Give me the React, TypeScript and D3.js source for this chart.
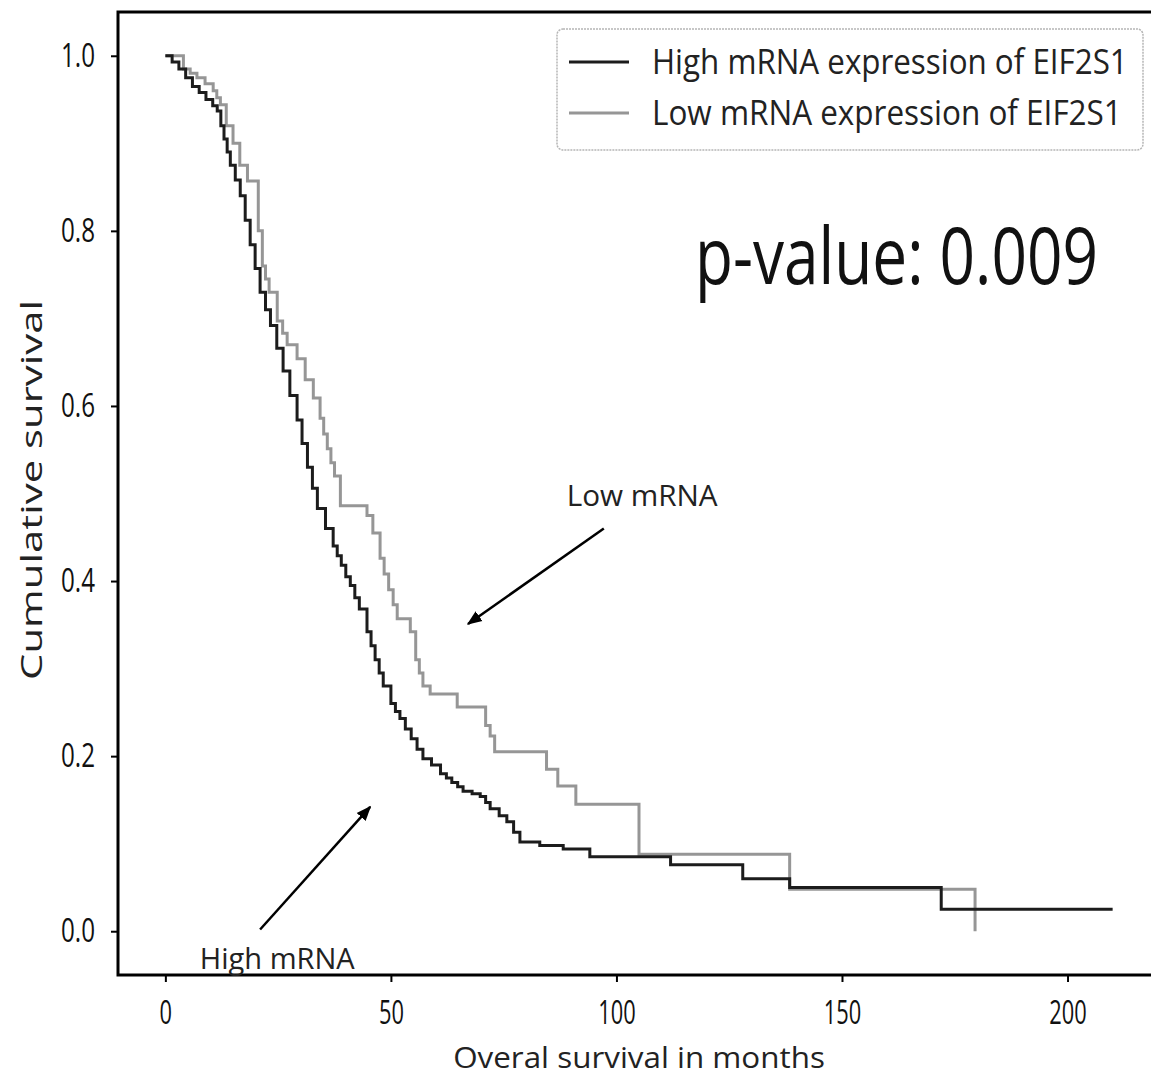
import React, { useEffect, useRef } from 'react';
import * as d3 from 'd3';

// Kaplan-Meier steps (months, cumulative survival)
const highMonths = [0, 1.5, 3, 4.5, 6, 7.5, 9, 10.5, 11.5, 12.3, 13, 13.7, 14.4, 15.5, 16.6, 17.7, 18.8, 19.9, 21, 22.2, 23.3, 24.7, 26.1, 27.6, 29.2, 30.3, 31.5, 32.6, 33.7, 35.5, 37.2, 38.1, 39, 40, 41, 42, 43, 44.7, 45.6, 46.5, 47.4, 48.3, 50, 51, 52, 53.2, 54.5, 55.8, 57.1, 59, 61, 62.3, 63.5, 64.8, 66, 68, 69.8, 71, 72, 74, 75.7, 77.2, 78.6, 83, 88.2, 94.1, 112, 128, 138.4, 172, 210];
const highSurv = [1.0, 0.993, 0.985, 0.975, 0.965, 0.958, 0.95, 0.943, 0.937, 0.92, 0.905, 0.89, 0.875, 0.858, 0.84, 0.812, 0.784, 0.757, 0.73, 0.71, 0.692, 0.666, 0.64, 0.612, 0.584, 0.557, 0.53, 0.506, 0.483, 0.46, 0.44, 0.429, 0.418, 0.405, 0.395, 0.381, 0.368, 0.342, 0.326, 0.31, 0.295, 0.28, 0.26, 0.251, 0.243, 0.231, 0.22, 0.208, 0.197, 0.19, 0.18, 0.175, 0.17, 0.165, 0.16, 0.157, 0.154, 0.147, 0.14, 0.132, 0.125, 0.113, 0.102, 0.098, 0.094, 0.085, 0.076, 0.06, 0.05, 0.025, 0.025];

const lowMonths = [0, 4, 5.5, 7, 8.8, 10.6, 11.4, 12.2, 13.5, 15, 16.5, 18.2, 20.6, 21.5, 22.2, 23, 24.8, 26, 27, 29.2, 31, 32.8, 34.3, 35.1, 35.9, 36.7, 37.5, 38.8, 44.7, 46, 47.6, 48.5, 49.5, 50.5, 51.4, 54.3, 55.5, 56.3, 57.1, 58.7, 64.7, 71, 72, 73, 84.5, 87, 91, 105, 138.4, 179.5];
const lowSurv = [1.0, 0.985, 0.98, 0.975, 0.968, 0.96, 0.952, 0.944, 0.92, 0.9, 0.875, 0.857, 0.8, 0.76, 0.745, 0.73, 0.697, 0.683, 0.67, 0.654, 0.63, 0.609, 0.586, 0.568, 0.551, 0.535, 0.52, 0.486, 0.475, 0.455, 0.426, 0.408, 0.39, 0.373, 0.357, 0.342, 0.31, 0.295, 0.28, 0.271, 0.256, 0.235, 0.223, 0.205, 0.185, 0.166, 0.145, 0.088, 0.048, 0.0];

const xTicks = [0, 50, 100, 150, 200];
const yTicks = [0.0, 0.2, 0.4, 0.6, 0.8, 1.0];

const seriesNames = ['High mRNA expression of EIF2S1', 'Low mRNA expression of EIF2S1'];
const seriesColors = ['#1c1c1c', '#969696'];

const FONT = "'Open Sans', sans-serif";

export default function App() {
  const svgRef = useRef<SVGSVGElement>(null);

  useEffect(() => {
    const svg = d3.select(svgRef.current);
    svg.selectAll('*').remove();

    const left = 118, right = 1160, top = 12, bottom = 975;
    const x = d3.scaleLinear().domain([-10.5, 220.5]).range([left, right]);
    const y = d3.scaleLinear().domain([-0.05, 1.05]).range([bottom, top]);

    // squash text horizontally like the original figure
    const digitW = 12.5;
    const labelLen = (s: string) => s.split('').reduce((a, c) => a + (c === '.' ? 9 : digitW), 0);

    // text drawn at (0,0) then squeezed to a target width with a transform
    const squashed = (parent: any, str: string, px: number, py: number, size: number,
      width: number, anchor = 'start', rotate = 0) => {
      const t = parent.append('text')
        .attr('text-anchor', anchor)
        .attr('font-family', FONT).attr('font-size', size).attr('fill', '#222')
        .text(str);
      const w = (t.node() as SVGTextElement).getComputedTextLength() || width;
      t.attr('transform', 'translate(' + px + ',' + py + ') rotate(' + rotate + ') scale(' + (width / w) + ',1)');
      return t;
    };

    const line = d3.line<[number, number]>()
      .x(d => x(d[0]))
      .y(d => y(d[1]))
      .curve(d3.curveStepAfter);

    const high: [number, number][] = highMonths.map((m, i) => [m, highSurv[i]]);
    const low: [number, number][] = lowMonths.map((m, i) => [m, lowSurv[i]]);

    svg.append('path').datum(low)
      .attr('d', line)
      .attr('fill', 'none')
      .attr('stroke', seriesColors[1])
      .attr('stroke-width', 3);

    svg.append('path').datum(high)
      .attr('d', line)
      .attr('fill', 'none')
      .attr('stroke', seriesColors[0])
      .attr('stroke-width', 3);

    // frame
    svg.append('rect')
      .attr('x', left).attr('y', top)
      .attr('width', right - left).attr('height', bottom - top)
      .attr('fill', 'none').attr('stroke', '#000').attr('stroke-width', 3);

    // axes
    const yAxis = d3.axisLeft(y).tickValues(yTicks).tickFormat(d3.format('.1f')).tickSize(7).tickPadding(16);
    const gy = svg.append('g').attr('transform', 'translate(' + left + ',0)').call(yAxis);
    gy.select('.domain').remove();
    gy.selectAll('line').attr('stroke-width', 2);
    gy.selectAll('text')
      .attr('font-family', FONT).attr('font-size', 33).attr('fill', '#111')
      .attr('textLength', (d: any) => labelLen(d3.format('.1f')(d)))
      .attr('lengthAdjust', 'spacingAndGlyphs');

    const xAxis = d3.axisBottom(x).tickValues(xTicks).tickFormat(d3.format('d')).tickSize(7).tickPadding(19);
    const gx = svg.append('g').attr('transform', 'translate(0,' + bottom + ')').call(xAxis);
    gx.select('.domain').remove();
    gx.selectAll('line').attr('stroke-width', 2);
    gx.selectAll('text')
      .attr('font-family', FONT).attr('font-size', 33).attr('fill', '#111')
      .attr('textLength', (d: any) => labelLen(String(d)))
      .attr('lengthAdjust', 'spacingAndGlyphs');

    // axis titles
    squashed(svg, 'Overal survival in months', 639, 1068, 30, 372, 'middle');
    squashed(svg, 'Cumulative survival', 42, 490, 30, 380, 'middle', -90);

    // legend
    const lg = svg.append('g');
    lg.append('rect')
      .attr('x', 557).attr('y', 29).attr('width', 586).attr('height', 121).attr('rx', 6)
      .attr('fill', '#fff').attr('stroke', '#b5b5b5').attr('stroke-width', 1.5)
      .attr('stroke-dasharray', '2,1');
    const legendLen = [476, 470];
    seriesNames.forEach((name, i) => {
      const ly = 62 + i * 51;
      lg.append('line')
        .attr('x1', 569).attr('x2', 629).attr('y1', ly).attr('y2', ly)
        .attr('stroke', seriesColors[i]).attr('stroke-width', 3);
      squashed(lg, name, 652, ly + 12, 34, legendLen[i]);
    });

    // p-value
    squashed(svg, 'p-value: 0.009', 695, 284, 78, 403).attr('fill', '#111');

    // annotations with arrows
    svg.append('defs').append('marker')
      .attr('id', 'arrowHead')
      .attr('viewBox', '0 0 10 10').attr('refX', 9).attr('refY', 5)
      .attr('markerWidth', 6).attr('markerHeight', 6).attr('orient', 'auto')
      .append('path').attr('d', 'M0,1 L10,5 L0,9 Z').attr('fill', '#000');

    const notes = [
      { text: 'Low mRNA', tx: 105.7, ty: 0.486, len: 151, from: [97.2, 0.46], to: [67.1, 0.351] },
      { text: 'High mRNA', tx: 24.8, ty: -0.043, len: 155, from: [21, 0.002], to: [45.4, 0.142] },
    ];
    notes.forEach(n => {
      svg.append('line')
        .attr('x1', x(n.from[0])).attr('y1', y(n.from[1]))
        .attr('x2', x(n.to[0])).attr('y2', y(n.to[1]))
        .attr('stroke', '#000').attr('stroke-width', 2.5)
        .attr('marker-end', 'url(#arrowHead)');
      squashed(svg, n.text, x(n.tx), y(n.ty), 30, n.len, 'middle');
    });
  }, []);

  return (
    <svg ref={svgRef} width={1151} height={1079}
      style={{ position: 'absolute', left: 0, top: 0, background: '#fff' }} />
  );
}
